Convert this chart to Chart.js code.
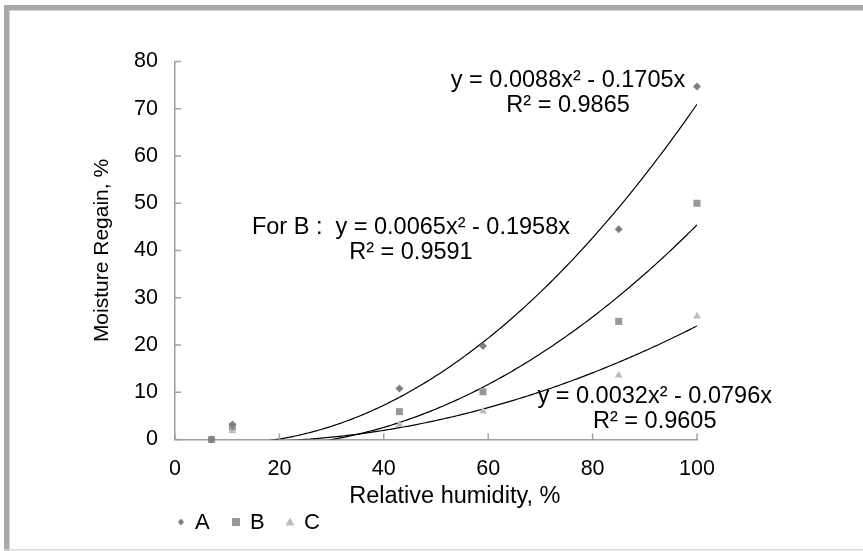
<!DOCTYPE html>
<html>
<head>
<meta charset="utf-8">
<title>Moisture regain vs relative humidity</title>
<script src="https://cdn.jsdelivr.net/npm/chart.js@4.4.0/dist/chart.umd.min.js"></script>
<style>
  html, body { margin: 0; padding: 0; background: #fff; }
  #wrap { width: 863px; height: 551px; position: relative; }
</style>
</head>
<body>
<div id="wrap"><canvas id="regainChart" width="863" height="551"></canvas></div>
<script>
// --- data ---
const humidity = [7, 11, 43, 59, 85, 100];
const regainA = [0, 3.2, 10.8, 19.8, 44.5, 74.7];
const regainB = [0, 2.7, 5.9, 10.1, 25.0, 50.0];
const regainC = [0, 1.8, 3.2, 6.0, 13.6, 26.1];

const seriesNames = ['A', 'B', 'C'];
const xTicks = [0, 20, 40, 60, 80, 100];
const yTicks = [0, 10, 20, 30, 40, 50, 60, 70, 80];

// trendline coefficients (y = a*x^2 + b*x) as printed on the chart
const trendA = [0.0088, -0.1705];
const trendB = [0.0065, -0.1958];
const trendC = [0.0032, -0.0796];

const labelsA = ['y = 0.0088x² - 0.1705x', 'R² = 0.9865'];
const labelsB = ['For B :  y = 0.0065x² - 0.1958x', 'R² = 0.9591'];
const labelsC = ['y = 0.0032x² - 0.0796x', 'R² = 0.9605'];
const xTitle = 'Relative humidity, %';
const yTitle = 'Moisture Regain, %';

const FONT = "'Liberation Sans', Arial, sans-serif";

function toPoints(xs, ys) {
  return xs.map((x, i) => ({ x: x, y: ys[i] }));
}

// grey frame round the picture
const framePlugin = {
  id: 'frame',
  beforeDraw(chart) {
    const ctx = chart.ctx;
    ctx.save();
    ctx.fillStyle = '#fff';
    ctx.fillRect(0, 0, chart.width, chart.height);
    ctx.fillStyle = '#a9a9a9';
    ctx.fillRect(4, 5, 859, 5.5);
    ctx.fillRect(4, 5, 5.5, 546);
    ctx.fillStyle = '#dadada';
    ctx.fillRect(4, 549, 859, 1.5);
    ctx.restore();
  }
};

// tick marks point inwards, like the original
const innerTicks = {
  id: 'innerTicks',
  afterDraw(chart) {
    const { ctx, chartArea } = chart;
    const xs = chart.scales.x, ys = chart.scales.y;
    ctx.save();
    ctx.strokeStyle = '#a0a0a0';
    ctx.lineWidth = 1.5;
    ctx.beginPath();
    xTicks.forEach(v => {
      const px = xs.getPixelForValue(v);
      ctx.moveTo(px, chartArea.bottom);
      ctx.lineTo(px, chartArea.bottom - 6);
    });
    yTicks.forEach(v => {
      const py = ys.getPixelForValue(v);
      ctx.moveTo(chartArea.left, py);
      ctx.lineTo(chartArea.left + 6, py);
    });
    ctx.stroke();
    ctx.restore();
  }
};

// polynomial trendlines over the data range
const trendPlugin = {
  id: 'trend',
  beforeDatasetsDraw(chart) {
    const { ctx, chartArea } = chart;
    const xs = chart.scales.x, ys = chart.scales.y;
    const x0 = humidity[0], x1 = humidity[humidity.length - 1];
    ctx.save();
    ctx.beginPath();
    ctx.rect(chartArea.left, chartArea.top, chartArea.right - chartArea.left, chartArea.bottom - chartArea.top);
    ctx.clip();
    ctx.strokeStyle = '#000';
    ctx.lineWidth = 1.2;
    [trendA, trendB, trendC].forEach(c => {
      ctx.beginPath();
      for (let x = x0; x <= x1 + 0.001; x += 0.5) {
        const y = c[0] * x * x + c[1] * x;
        const px = xs.getPixelForValue(x), py = ys.getPixelForValue(y);
        if (x === x0) ctx.moveTo(px, py); else ctx.lineTo(px, py);
      }
      ctx.stroke();
    });
    ctx.restore();
  }
};

// equation labels (anchored in data units) and the x axis title
const eqPlugin = {
  id: 'equations',
  afterDraw(chart) {
    const ctx = chart.ctx;
    const xs = chart.scales.x, ys = chart.scales.y;
    const items = [
      { lines: labelsA, x: 75.3, y: 76.0 },
      { lines: labelsB, x: 45.2, y: 44.8 },
      { lines: labelsC, x: 91.9, y: 9.2 }
    ];
    ctx.save();
    ctx.fillStyle = '#000';
    ctx.font = '23.5px ' + FONT;
    ctx.textAlign = 'center';
    ctx.textBaseline = 'middle';
    items.forEach(it => {
      const px = xs.getPixelForValue(it.x);
      const py = ys.getPixelForValue(it.y);
      it.lines.forEach((t, i) => ctx.fillText(t, px, py + i * 25));
    });
    // x title sits a little right of the axis centre in the original
    ctx.font = '23.5px ' + FONT;
    ctx.fillText(xTitle, xs.getPixelForValue(53.6), 497);
    ctx.restore();
  }
};

// legend under the x axis title
const legendPlugin = {
  id: 'customLegend',
  afterDraw(chart) {
    const ctx = chart.ctx;
    const y = 522;
    const starts = [181, 236, 290];
    ctx.save();
    ctx.font = '22px ' + FONT;
    ctx.textBaseline = 'middle';
    ctx.textAlign = 'left';
    chart.data.datasets.forEach((ds, i) => {
      const cx = starts[i];
      ctx.fillStyle = ds.backgroundColor;
      ctx.beginPath();
      if (ds.pointStyle === 'rectRot') {
        ctx.moveTo(cx, y - 3.5); ctx.lineTo(cx + 3, y); ctx.lineTo(cx, y + 3.5); ctx.lineTo(cx - 3, y);
      } else if (ds.pointStyle === 'rect') {
        ctx.rect(cx - 4, y - 4, 8, 8);
      } else {
        ctx.moveTo(cx, y - 4.5); ctx.lineTo(cx + 4.5, y + 3.5); ctx.lineTo(cx - 4.5, y + 3.5);
      }
      ctx.closePath();
      ctx.fill();
      ctx.fillStyle = '#000';
      ctx.fillText(ds.label, cx + 14, y + 1);
    });
    ctx.restore();
  }
};

new Chart(document.getElementById('regainChart'), {
  type: 'scatter',
  data: {
    datasets: [
      {
        label: seriesNames[0],
        data: toPoints(humidity, regainA),
        pointStyle: 'rectRot',
        pointRadius: 4,
        backgroundColor: '#7f7f7f',
        borderWidth: 0,
        clip: false
      },
      {
        label: seriesNames[1],
        data: toPoints(humidity, regainB),
        pointStyle: 'rect',
        pointRadius: 5,
        backgroundColor: '#999999',
        borderWidth: 0,
        clip: false
      },
      {
        label: seriesNames[2],
        data: toPoints(humidity, regainC),
        pointStyle: 'triangle',
        pointRadius: 4.5,
        backgroundColor: '#bdbdbd',
        borderWidth: 0,
        clip: false
      }
    ]
  },
  options: {
    responsive: false,
    animation: false,
    layout: { padding: { left: 90, right: 166, top: 61.5, bottom: 36.5 } },
    plugins: {
      legend: { display: false },
      tooltip: { enabled: false }
    },
    scales: {
      x: {
        type: 'linear',
        min: 0, max: 100,
        afterFit: s => { s.height = 75; },
        afterBuildTicks: s => { s.ticks = xTicks.map(v => ({ value: v })); },
        ticks: { font: { family: FONT, size: 21.5 }, color: '#000', padding: 17, maxRotation: 0 },
        grid: { drawOnChartArea: false, drawTicks: false },
        border: { color: '#a0a0a0', width: 1.5 },
        title: { display: false }
      },
      y: {
        type: 'linear',
        min: 0, max: 80,
        afterFit: s => { s.width = 85; },
        afterBuildTicks: s => { s.ticks = yTicks.map(v => ({ value: v })); },
        ticks: { font: { family: FONT, size: 21.5 }, color: '#000', padding: 17 },
        grid: { drawOnChartArea: false, drawTicks: false },
        border: { color: '#a0a0a0', width: 1.5 },
        title: { display: true, text: yTitle, color: '#000',
                 font: { family: FONT, size: 21 }, padding: { top: 0, bottom: 0 } }
      }
    }
  },
  plugins: [framePlugin, trendPlugin, innerTicks, eqPlugin, legendPlugin]
});
</script>
</body>
</html>
